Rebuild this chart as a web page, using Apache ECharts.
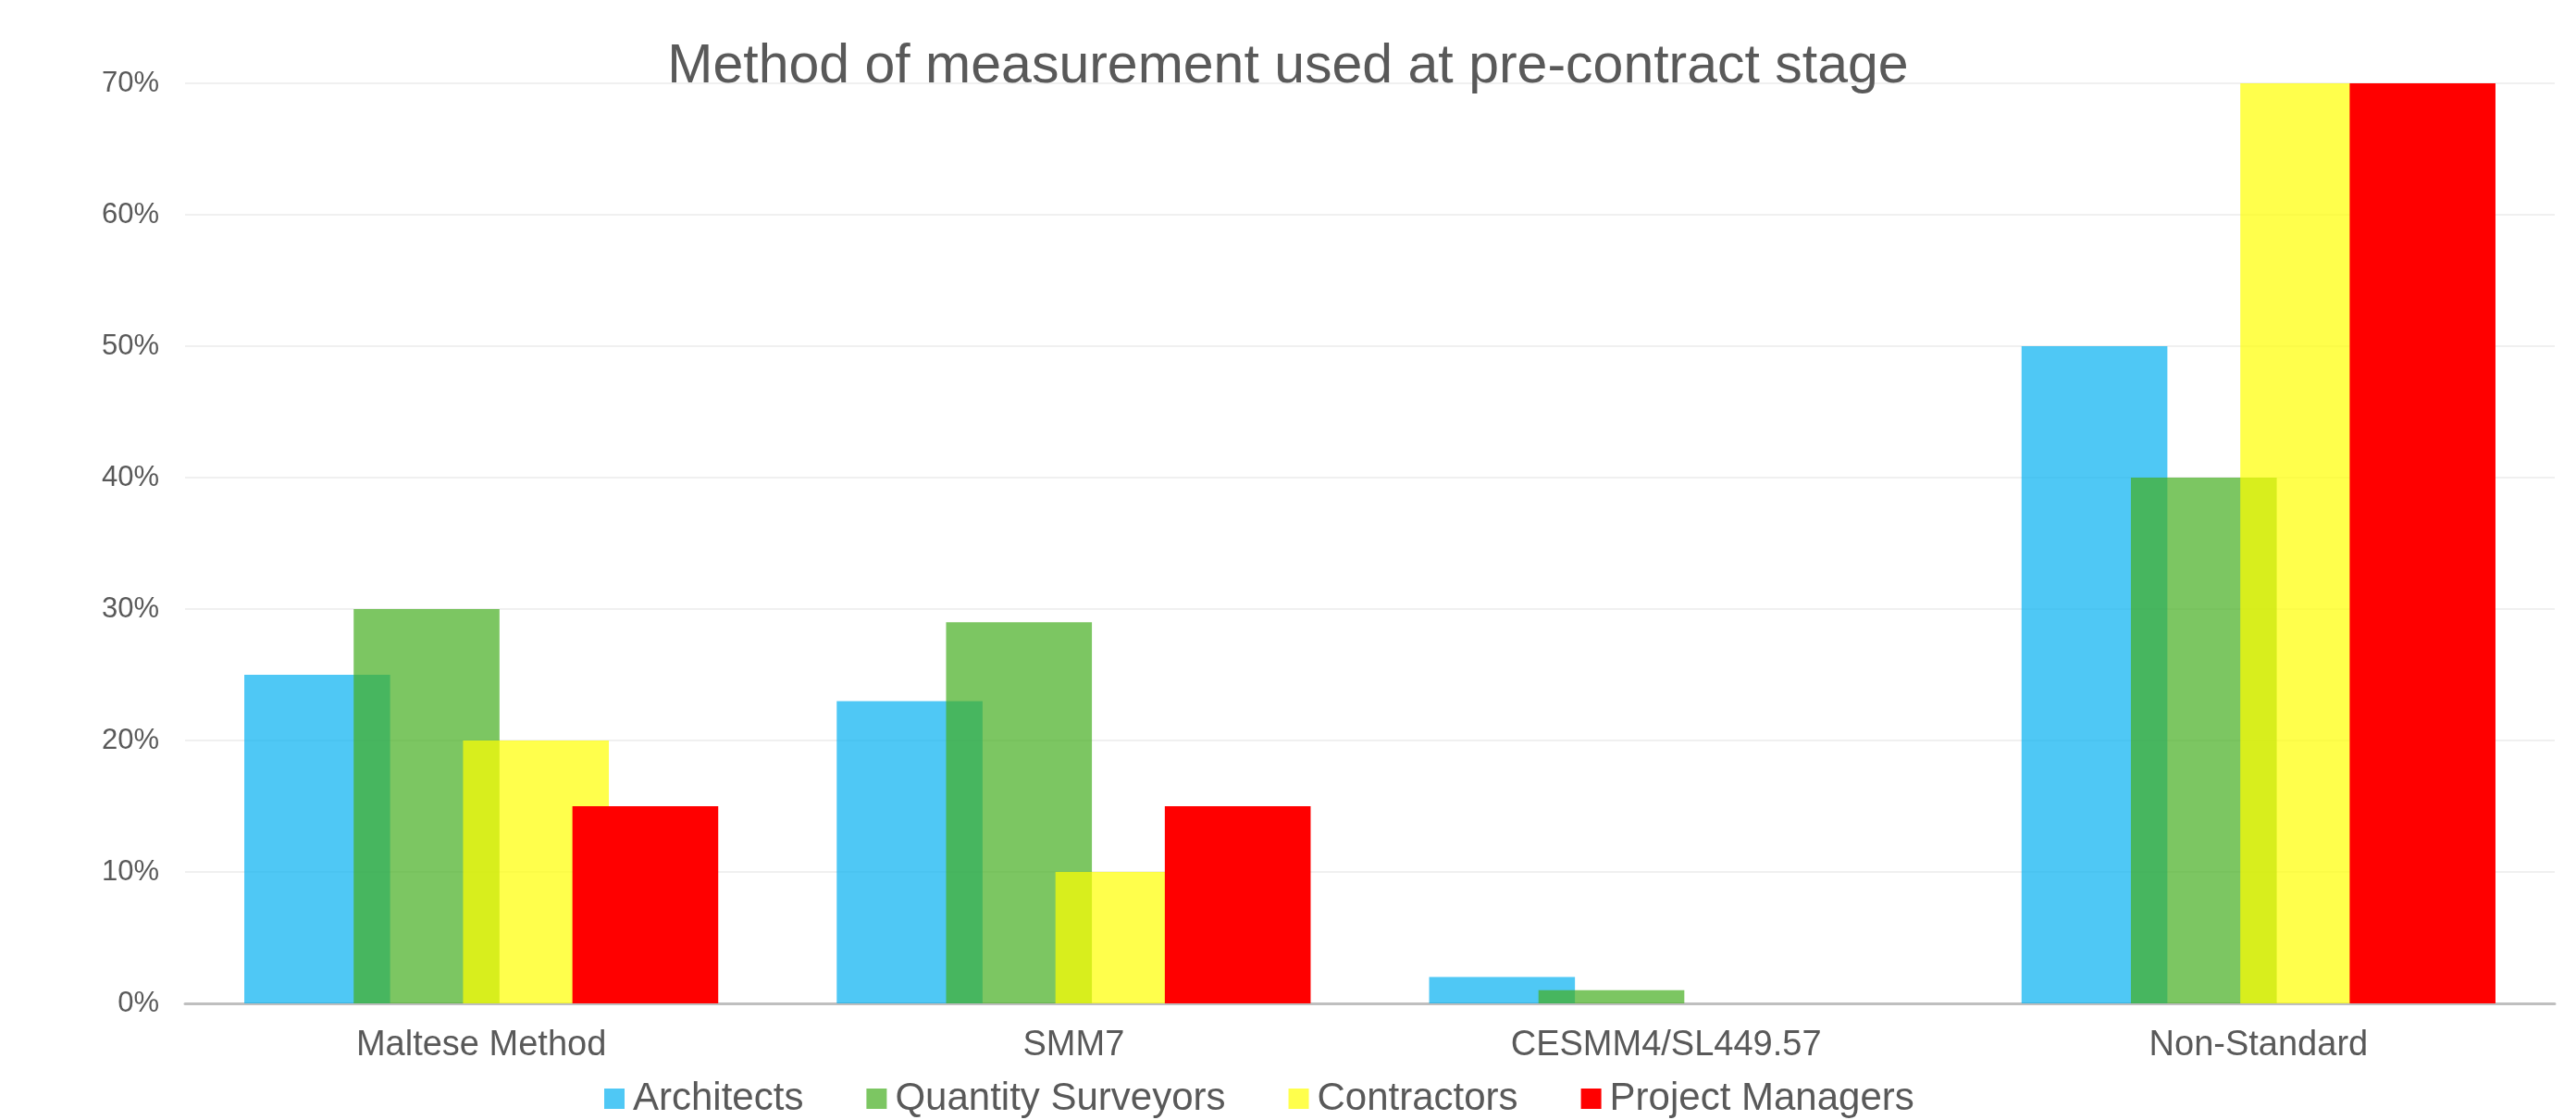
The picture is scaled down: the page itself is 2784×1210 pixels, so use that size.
<!DOCTYPE html>
<html>
<head>
<meta charset="utf-8">
<title>Method of measurement used at pre-contract stage</title>
<script src="https://cdn.jsdelivr.net/npm/echarts@6/dist/echarts.min.js"></script>
<style>
  html, body { margin: 0; padding: 0; background: #ffffff; }
  #chart { width: 2784px; height: 1210px; }
</style>
</head>
<body>
<div id="chart"></div>
<script>
// Measurement methods (categories) and share of respondents per profession, in %
const categories = ['Maltese Method', 'SMM7', 'CESMM4/SL449.57', 'Non-Standard'];
const architects = [25, 23, 2, 50];
const quantitySurveyors = [30, 29, 1, 40];
const contractors = [20, 10, 0, 70];
const projectManagers = [15, 15, 0, 70];
const yTicks = [0, 10, 20, 30, 40, 50, 60, 70];

const seriesNames = ['Architects', 'Quantity Surveyors', 'Contractors', 'Project Managers'];
const seriesColors = ['rgba(0,176,240,0.69)', 'rgba(69,174,32,0.7)', 'rgba(255,255,0,0.7)', '#FF0000'];
const seriesData = [architects, quantitySurveyors, contractors, projectManagers];

const FONT = '"Liberation Sans", Arial, sans-serif';
const TEXT = '#595959';

const chart = echarts.init(document.getElementById('chart'), null, { renderer: 'canvas' });

chart.setOption({
  backgroundColor: '#ffffff',
  animation: false,
  title: {
    text: 'Method of measurement used at pre-contract stage',
    left: 'center',
    top: 38,
    textStyle: { fontFamily: FONT, fontSize: 59, fontWeight: 'normal', color: TEXT }
  },
  legend: {
    data: seriesNames,
    left: 648,
    top: 1161,
    itemWidth: 22,
    itemHeight: 22,
    itemGap: 68,
    icon: 'rect',
    textStyle: { fontFamily: FONT, fontSize: 42, color: TEXT, padding: [0, 0, 0, 4] }
  },
  grid: { left: 200, right: 23, top: 90, bottom: 126, containLabel: false },
  xAxis: {
    type: 'category',
    data: categories,
    axisTick: { show: false },
    axisLine: { lineStyle: { color: '#BFBFBF', width: 3 } },
    axisLabel: { fontFamily: FONT, fontSize: 38, color: TEXT, margin: 27 }
  },
  yAxis: {
    type: 'value',
    min: yTicks[0],
    max: yTicks[yTicks.length - 1],
    interval: yTicks[1] - yTicks[0],
    axisLine: { show: false },
    axisTick: { show: false },
    splitLine: { lineStyle: { color: '#F0F0F0', width: 2 } },
    axisLabel: { fontFamily: FONT, fontSize: 31, color: TEXT, margin: 28, formatter: '{value}%' }
  },
  series: seriesNames.map((name, i) => ({
    name: name,
    type: 'bar',
    data: seriesData[i],
    barGap: '-25%',
    barCategoryGap: '20%',
    itemStyle: { color: seriesColors[i] },
    emphasis: { disabled: true }
  }))
});
</script>
</body>
</html>
